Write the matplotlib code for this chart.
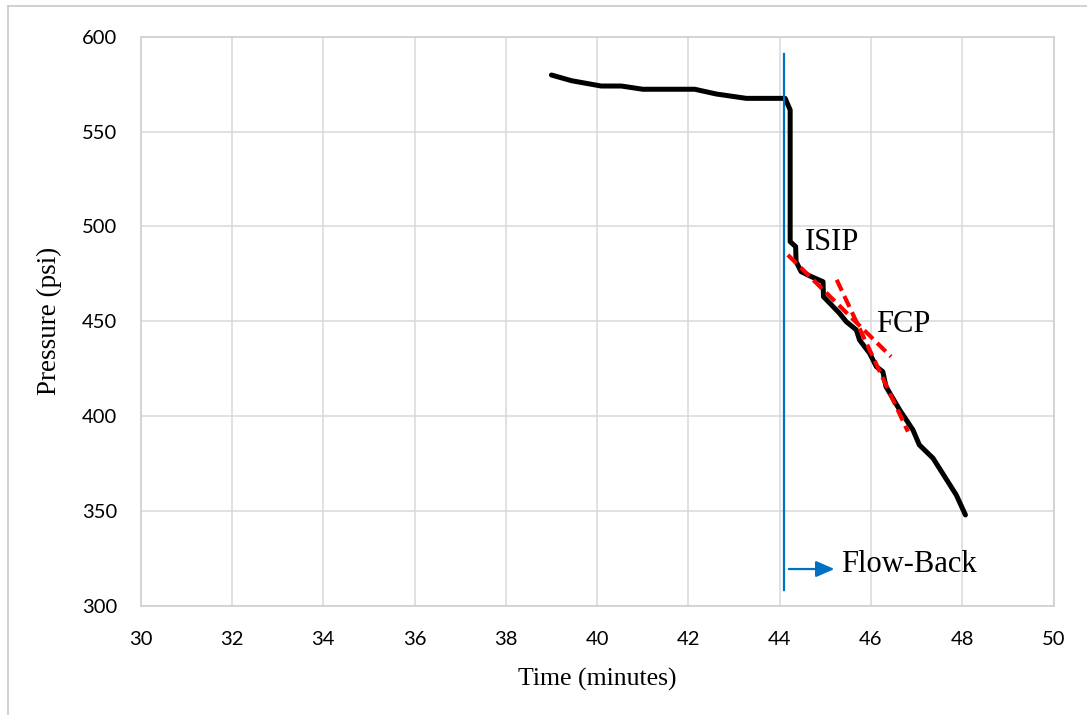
import matplotlib.pyplot as plt
from matplotlib.lines import Line2D

# pressure record (minutes, psi)
time_min = [39.0, 39.44, 40.09, 40.53, 41.0, 42.14, 42.61, 43.27, 44.12, 44.23,
            44.23, 44.35, 44.36, 44.47, 44.69, 44.95, 44.96, 45.31, 45.46, 45.68,
            45.75, 45.97, 46.12, 46.26, 46.33, 46.63, 46.92, 47.06, 47.36, 47.87,
            48.07]
pressure = [579.8, 576.8, 574.0, 574.0, 572.3, 572.3, 569.8, 567.5, 567.5, 561.4,
            492.0, 489.4, 481.5, 476.2, 473.6, 470.9, 463.0, 454.3, 449.8, 445.5,
            440.2, 433.2, 426.1, 423.5, 415.6, 403.3, 392.8, 384.9, 377.9, 358.5,
            348.0]

# tangent lines used to pick the closure point
tangent1_t = [44.18, 46.44]
tangent1_p = [485.0, 431.4]
tangent2_t = [45.25, 46.81]
tangent2_p = [471.9, 391.9]

shut_in_t = 44.10
shut_in_p = [308.5, 590.9]

x_ticks = list(range(30, 51, 2))
y_ticks = list(range(300, 601, 50))

fig = plt.figure(figsize=(10.87, 7.15), dpi=100)
ax = fig.add_axes([0.1294, 0.1524, 0.8398, 0.7963])

grid_col = "#d9d9d9"
ax.set_xlim(30, 50)
ax.set_ylim(300, 600)
ax.set_xticks(x_ticks)
ax.set_yticks(y_ticks)
ax.grid(True, color=grid_col, linewidth=1.1)
ax.set_axisbelow(True)
for s in ax.spines.values():
    s.set_color("#cfcfcf")
    s.set_linewidth(1.2)
ax.tick_params(length=0, labelsize=14.5)
ax.tick_params(axis="x", pad=18)
ax.tick_params(axis="y", pad=17)
for lab in ax.get_xticklabels() + ax.get_yticklabels():
    lab.set_fontfamily("Lato")

ax.plot(time_min, pressure, color="black", linewidth=3.6, zorder=3,
        solid_joinstyle="round", solid_capstyle="round")
ax.plot(tangent1_t, tangent1_p, color="#ff0000", linewidth=3, dashes=(2.9, 1.4), zorder=4)
ax.plot(tangent2_t, tangent2_p, color="#ff0000", linewidth=3, dashes=(2.9, 1.4), zorder=4)
ax.plot([shut_in_t, shut_in_t], shut_in_p, color="#0070c0", linewidth=1.6, zorder=5)

ax.annotate("", xy=(45.2, 319.5), xytext=(44.2, 319.5),
            arrowprops=dict(arrowstyle="-|>,head_length=0.8,head_width=0.35",
                            mutation_scale=14, color="#0070c0", lw=1.6,
                            shrinkA=0, shrinkB=0), zorder=5)

serif = "Liberation Serif"
ax.text(45.35, 322, "Flow-Back", fontsize=22, family=serif, va="center", ha="left")
ax.text(44.55, 491.8, "ISIP", fontsize=22, family=serif, va="center", ha="left")
ax.text(46.12, 448.6, "FCP", fontsize=22, family=serif, va="center", ha="left")

ax.set_xlabel("Time (minutes)", fontsize=18.5, family=serif, labelpad=14)
ax.set_ylabel("Pressure (psi)", fontsize=19.5, family=serif, labelpad=14)

# page border around the figure
fig.add_artist(Line2D([8 / 1087, 1.0], [1 - 6 / 715, 1 - 6 / 715],
                      color="#c8c8c8", linewidth=1.2, transform=fig.transFigure))
fig.add_artist(Line2D([8 / 1087, 8 / 1087], [0.0, 1 - 6 / 715],
                      color="#c8c8c8", linewidth=1.2, transform=fig.transFigure))

fig.savefig("out.png", dpi=100)
